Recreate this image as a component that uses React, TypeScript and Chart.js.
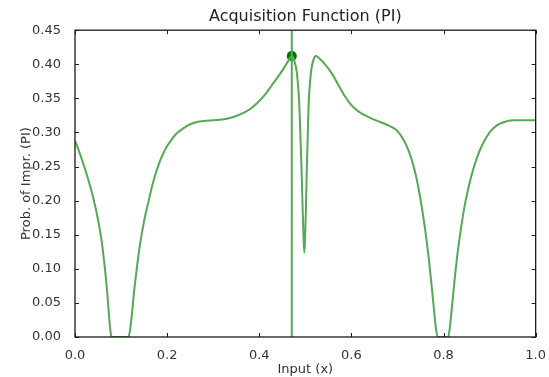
import { useEffect, useRef } from "react";
import { Chart, registerables } from "chart.js";

Chart.register(...registerables);

// Sample inputs (x) and the acquisition function values (PI)
const xValues = [
  0.0, 0.01, 0.02, 0.03, 0.04, 0.05, 0.058, 0.065, 0.07, 0.074, 0.077, 0.08, 0.098, 0.116,
  0.119, 0.123, 0.128, 0.134, 0.141, 0.15, 0.16, 0.17, 0.18, 0.19, 0.2, 0.21, 0.22, 0.235, 0.25,
  0.27, 0.3, 0.32, 0.34, 0.36, 0.377, 0.395, 0.413, 0.428, 0.442, 0.453, 0.463, 0.4706, 0.476,
  0.4815, 0.487, 0.4895, 0.492, 0.4945, 0.4965, 0.4978, 0.4992, 0.501, 0.503, 0.505, 0.507, 0.51,
  0.513, 0.517, 0.523, 0.53, 0.54, 0.557, 0.57, 0.587, 0.6, 0.615, 0.63, 0.645, 0.66, 0.675, 0.69,
  0.7, 0.71, 0.72, 0.73, 0.74, 0.75, 0.76, 0.768, 0.775, 0.78, 0.784, 0.788, 0.8, 0.81, 0.813,
  0.817, 0.822, 0.829, 0.838, 0.848, 0.86, 0.872, 0.885, 0.9, 0.915, 0.93, 0.95, 0.975, 1.0,
];
const piValues = [
  0.288, 0.27, 0.25, 0.228, 0.203, 0.172, 0.14, 0.1, 0.065, 0.03, 0.008, 0.0, 0.0, 0.0,
  0.008, 0.03, 0.065, 0.1, 0.135, 0.17, 0.2, 0.228, 0.25, 0.267, 0.28, 0.29, 0.298, 0.306, 0.312,
  0.316, 0.318, 0.319, 0.322, 0.327, 0.333, 0.343, 0.356, 0.37, 0.383, 0.394, 0.405, 0.412, 0.405,
  0.388, 0.339, 0.29, 0.241, 0.18, 0.14, 0.124, 0.14, 0.18, 0.241, 0.29, 0.339, 0.372,
  0.392, 0.405, 0.412, 0.409, 0.402, 0.387, 0.372, 0.352, 0.34, 0.331, 0.325, 0.32, 0.316, 0.312, 0.307,
  0.302, 0.293, 0.28, 0.262, 0.237, 0.202, 0.158, 0.115, 0.07, 0.035, 0.01, 0.0, 0.0, 0.0, 0.01,
  0.035, 0.07, 0.115, 0.16, 0.2, 0.235, 0.262, 0.283, 0.3, 0.31, 0.315, 0.318, 0.318, 0.318,
];
const bestX = [0.4706];
const bestPI = [0.412];
const xTicks = [0.0, 0.2, 0.4, 0.6, 0.8, 1.0];
const yTicks = [0.0, 0.05, 0.1, 0.15, 0.2, 0.25, 0.3, 0.35, 0.4, 0.45];

const FONT = "'DejaVu Sans', 'Liberation Sans', sans-serif";
const TEXT = "#333333";
const LINE = "#55a855";

const framePlugin = {
  id: "mplFrame",
  afterDraw(chart: any) {
    const { ctx, chartArea } = chart;
    const { left, right, top, bottom } = chartArea;
    const xs = chart.scales.x;
    const ys = chart.scales.y;
    ctx.save();
    ctx.strokeStyle = "#1a1a1a";
    ctx.lineWidth = 1.3;
    ctx.strokeRect(left, top, right - left, bottom - top);
    ctx.beginPath();
    ctx.lineWidth = 1;
    for (const t of xs.ticks) {
      const px = Math.round(xs.getPixelForValue(t.value)) + 0.5;
      ctx.moveTo(px, bottom);
      ctx.lineTo(px, bottom - 4);
      ctx.moveTo(px, top);
      ctx.lineTo(px, top + 4);
    }
    for (const t of ys.ticks) {
      const py = Math.round(ys.getPixelForValue(t.value)) + 0.5;
      ctx.moveTo(left, py);
      ctx.lineTo(left + 4, py);
      ctx.moveTo(right, py);
      ctx.lineTo(right - 4, py);
    }
    ctx.stroke();
    ctx.restore();
  },
};

export default function App() {
  const canvasRef = useRef<HTMLCanvasElement | null>(null);

  useEffect(() => {
    document.body.style.margin = "0";
    const canvas = canvasRef.current;
    if (!canvas) return;
    const curve = xValues.map((x, i) => ({ x, y: piValues[i] }));
    const vline = [
      { x: bestX[0], y: yTicks[0] },
      { x: bestX[0], y: yTicks[yTicks.length - 1] },
    ];
    const best = bestX.map((x, i) => ({ x, y: bestPI[i] }));

    const chart = new Chart(canvas, {
      type: "scatter",
      data: {
        datasets: [
          {
            data: curve,
            showLine: true,
            borderColor: LINE,
            borderWidth: 2,
            pointRadius: 0,
            cubicInterpolationMode: "monotone",
          } as any,
          {
            data: vline,
            showLine: true,
            borderColor: LINE,
            borderWidth: 2,
            pointRadius: 0,
          } as any,
          {
            data: best,
            pointRadius: 5,
            backgroundColor: "#007400",
            borderColor: "#007400",
            borderWidth: 0,
          },
        ],
      },
      options: {
        animation: false,
        responsive: false,
        layout: { padding: { left: 0, right: 12, top: 0, bottom: 0 } },
        plugins: {
          legend: { display: false },
          tooltip: { enabled: false },
          title: {
            display: true,
            fullSize: false,
            text: "Acquisition Function (PI)",
            color: "#222222",
            font: { family: FONT, size: 16, weight: "normal" },
            padding: { top: 7, bottom: 4 },
          },
        },
        scales: {
          x: {
            type: "linear",
            min: 0,
            max: 1,
            grid: { display: false },
            border: { display: false },
            afterBuildTicks: (s: any) => {
              s.ticks = xTicks.map((v) => ({ value: v }));
            },
            afterFit: (s: any) => {
              s.height = 40;
            },
            ticks: {
              color: TEXT,
              font: { family: FONT, size: 13 },
              padding: 3,
              maxRotation: 0,
              callback: (v: any) => Number(v).toFixed(1),
            },
            title: {
              display: true,
              text: "Input (x)",
              color: TEXT,
              font: { family: FONT, size: 13 },
              padding: { top: 0, bottom: 0 },
            },
          },
          y: {
            type: "linear",
            min: 0,
            max: 0.45,
            grid: { display: false },
            border: { display: false },
            afterBuildTicks: (s: any) => {
              s.ticks = yTicks.map((v) => ({ value: v }));
            },
            afterFit: (s: any) => {
              s.width = 75;
            },
            ticks: {
              color: TEXT,
              font: { family: FONT, size: 13 },
              padding: 6,
              callback: (v: any) => Number(v).toFixed(2),
            },
            title: {
              display: true,
              text: "Prob. of Impr. (PI)",
              color: TEXT,
              font: { family: FONT, size: 13 },
              padding: { top: 19, bottom: 0 },
            },
          },
        },
      },
      plugins: [framePlugin],
    });
    return () => chart.destroy();
  }, []);

  return (
    <div style={{ width: 549, height: 377 }}>
      <canvas ref={canvasRef} width={549} height={377} style={{ display: "block" }} />
    </div>
  );
}
